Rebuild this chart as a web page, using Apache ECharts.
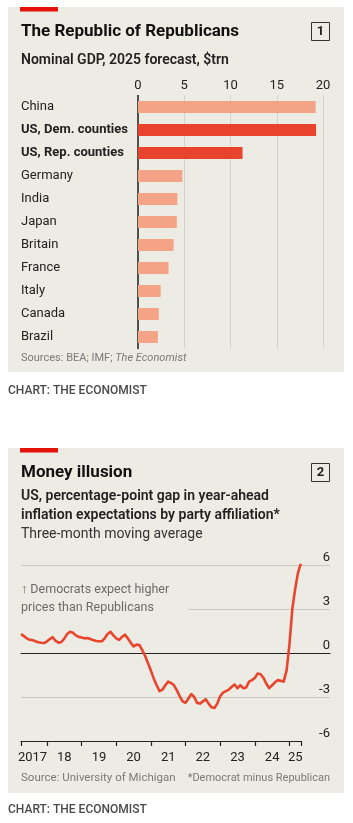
<!DOCTYPE html>
<html>
<head>
<meta charset="utf-8">
<style>
  html, body { margin: 0; padding: 0; background: #fff; }
  #main { width: 353px; height: 823px; }
</style>
<script src="https://cdn.jsdelivr.net/npm/echarts@6/dist/echarts.min.js"></script>
</head>
<body>
<div id="main"></div>
<script>
// chart 1: nominal GDP, 2025 forecast, $trn
var countries = ['China', 'US, Dem. counties', 'US, Rep. counties', 'Germany', 'India', 'Japan',
    'Britain', 'France', 'Italy', 'Canada', 'Brazil'];
var gdp = [19.2, 19.25, 11.3, 4.8, 4.25, 4.2, 3.85, 3.3, 2.45, 2.25, 2.15];
var usRows = ['US, Dem. counties', 'US, Rep. counties'];

// chart 2: Dem minus Rep gap in year-ahead inflation expectations, monthly from Apr 2017
var startYear = 2017, startMonth = 4;
var gap = [
    1.3, 1.15, 1.0, 0.9, 0.88, 0.8, 0.73, 0.7, 0.68, 0.8,
    0.95, 1.08, 0.82, 0.7, 0.75, 0.98, 1.3, 1.45, 1.38, 1.2,
    1.1, 1.05, 1.0, 1.02, 0.95, 0.88, 0.82, 0.8, 0.8, 1.0,
    1.3, 1.45, 1.2, 1.0, 0.9, 1.1, 1.25, 1.0, 0.7, 0.45,
    0.57, 0.55, 0.2, -0.2, -0.7, -1.2, -1.75, -2.2, -2.6, -2.5,
    -2.2, -1.95, -2.05, -2.2, -2.55, -2.95, -3.3, -3.4, -3.1, -2.8,
    -3.0, -3.4, -3.45, -3.3, -3.15, -3.45, -3.7, -3.75, -3.45, -2.95,
    -2.7, -2.6, -2.5, -2.3, -2.15, -2.4, -2.2, -2.4, -2.35, -1.95,
    -1.85, -1.7, -1.4, -1.45, -1.7, -2.1, -2.4, -2.2, -2.0, -1.85,
    -1.9, -1.95, -1.2, 0.6, 3.0, 4.4, 5.5, 6.15
];
var yearLabelMonths = ['2017-08', '2018-07', '2019-07', '2020-07', '2021-07', '2022-07', '2023-07', '2024-07', '2025-03'];
var yearLabels = ['2017', '18', '19', '20', '21', '22', '23', '24', '25'];

var months = [];
for (var i = 0; i < gap.length; i++) {
    var m = startMonth - 1 + i;
    var y = startYear + Math.floor(m / 12);
    var mm = (m % 12) + 1;
    months.push(y + '-' + (mm < 10 ? '0' + mm : mm));
}

var panel = '#ecebe4';
var red = '#e3120b';
var font = 'Roboto, "Liberation Sans", sans-serif';

function txt(x, y, text, style) {
    var s = Object.assign({
        text: text, fontFamily: font, fontSize: 13, fill: '#222',
        textVerticalAlign: 'middle'
    }, style || {});
    return { type: 'text', x: x, y: y, style: s, z: 5 };
}

var myChart = echarts.init(document.getElementById('main'));

var option = {
    animation: false,
    textStyle: { fontFamily: font },
    grid: [
        { left: 138, right: 30, top: 95.5, height: 253 },
        { left: 21, right: 23, top: 565, bottom: 82 },
        { left: 21, right: 52, top: 565, bottom: 82 }
    ],
    xAxis: [
        {
            gridIndex: 0, type: 'value', min: 0, max: 20, interval: 5, position: 'top',
            axisLine: { show: false }, axisTick: { show: false },
            axisLabel: { fontSize: 13, color: '#222', margin: 3 },
            splitLine: { lineStyle: { color: '#d3d2ca', width: 1 } }
        },
        {
            // zero line of chart 2, full width
            gridIndex: 1, type: 'value', min: 0, max: 1,
            axisLine: { show: true, onZero: true, lineStyle: { color: '#222', width: 1.2 } },
            axisTick: { show: false }, axisLabel: { show: false }, splitLine: { show: false }
        },
        {
            gridIndex: 2, type: 'category', data: months, boundaryGap: false,
            axisLine: { onZero: false, lineStyle: { color: '#222', width: 1.2 } },
            axisTick: {
                length: 5, lineStyle: { color: '#222', width: 1.2 },
                interval: function (idx, val) {
                    return idx === 0 || idx === months.length - 1 || val.slice(5) === '01';
                }
            },
            axisLabel: {
                fontSize: 13, color: '#222', margin: 10,
                interval: function (idx, val) { return yearLabelMonths.indexOf(val) >= 0; },
                formatter: function (val) {
                    var k = yearLabelMonths.indexOf(val);
                    return k >= 0 ? yearLabels[k] : '';
                }
            },
            splitLine: { show: false }
        }
    ],
    yAxis: [
        {
            gridIndex: 0, type: 'category', data: countries, inverse: true,
            axisLine: { show: true, lineStyle: { color: '#222', width: 1.5 } },
            axisTick: { show: false },
            axisLabel: {
                align: 'left', margin: 117, fontSize: 13, color: '#222',
                formatter: function (v) {
                    return usRows.indexOf(v) >= 0 ? '{b|' + v + '}' : v;
                },
                rich: { b: { fontWeight: 'bold', fontSize: 13, color: '#222' } }
            }
        },
        {
            gridIndex: 1, type: 'value', min: -6, max: 6, interval: 3, position: 'right',
            axisLine: { show: false }, axisTick: { show: false },
            axisLabel: {
                inside: true, margin: 0, fontSize: 13, color: '#222',
                verticalAlign: 'bottom', padding: [0, 0, 1, 0]
            },
            splitLine: { showMinLine: false, lineStyle: { color: '#cbcac2', width: 1 } }
        },
        { gridIndex: 2, type: 'value', min: -6, max: 6, show: false }
    ],
    series: [
        {
            type: 'bar', xAxisIndex: 0, yAxisIndex: 0, barWidth: 12,
            data: gdp,
            itemStyle: {
                color: function (p) {
                    return usRows.indexOf(countries[p.dataIndex]) >= 0 ? '#e8432d' : '#f5a386';
                }
            }
        },
        {
            type: 'line', xAxisIndex: 2, yAxisIndex: 2, data: gap,
            symbol: 'none', z: 3,
            lineStyle: { color: '#e8452e', width: 2.6, join: 'round' }
        }
    ],
    graphic: [
        // panels
        { type: 'rect', shape: { x: 8, y: 7, width: 336, height: 365 }, style: { fill: panel }, z: -10 },
        { type: 'rect', shape: { x: 8, y: 448, width: 336, height: 345 }, style: { fill: panel }, z: -10 },
        { type: 'rect', shape: { x: 20, y: 7, width: 38, height: 4.5 }, style: { fill: red }, z: 5 },
        { type: 'rect', shape: { x: 20, y: 448, width: 38, height: 4.5 }, style: { fill: red }, z: 5 },
        // chart 1 text
        txt(21, 32, 'The Republic of Republicans', { fontSize: 17, fontWeight: 'bold', fill: '#111' }),
        { type: 'rect', shape: { x: 311.5, y: 22.5, width: 18, height: 18 }, style: { fill: 'none', stroke: '#333', lineWidth: 1 }, z: 5 },
        txt(320.5, 32, '1', { fontSize: 13, fontWeight: 'bold', textAlign: 'center' }),
        txt(21, 60, 'Nominal GDP, 2025 forecast, $trn', { fontSize: 14, fontWeight: 600 }),
        txt(21, 358, '{a|Sources: BEA; IMF; }{i|The Economist}', {
            rich: {
                a: { fontSize: 11, fill: '#7a7a7a', fontFamily: font },
                i: { fontSize: 11, fill: '#7a7a7a', fontStyle: 'italic', fontFamily: font }
            }
        }),
        txt(8, 391, 'CHART: THE ECONOMIST', { fontSize: 12, fontWeight: 500, fill: '#4a4a4a' }),
        // chart 2 text
        txt(21, 473, 'Money illusion', { fontSize: 17, fontWeight: 'bold', fill: '#111' }),
        { type: 'rect', shape: { x: 311.5, y: 463.5, width: 18, height: 18 }, style: { fill: 'none', stroke: '#333', lineWidth: 1 }, z: 5 },
        txt(320.5, 473, '2', { fontSize: 13, fontWeight: 'bold', textAlign: 'center' }),
        txt(21, 496, 'US, percentage-point gap in year-ahead', { fontSize: 14, fontWeight: 600 }),
        txt(21, 515, 'inflation expectations by party affiliation*', { fontSize: 14, fontWeight: 600 }),
        txt(21, 534, 'Three-month moving average', { fontSize: 14, fill: '#333' }),
        { type: 'rect', shape: { x: 20, y: 605, width: 168, height: 8 }, style: { fill: panel }, z: 1 },
        txt(21, 590, '\u2191 Democrats expect higher', { fontSize: 12.5, fill: '#6b6b6b' }),
        txt(21, 608, 'prices than Republicans', { fontSize: 12.5, fill: '#6b6b6b' }),
        txt(21, 778, 'Source: University of Michigan', { fontSize: 11.5, fill: '#7a7a7a' }),
        txt(330, 778, '*Democrat minus Republican', { fontSize: 11, fill: '#7a7a7a', textAlign: 'right' }),
        txt(8, 810, 'CHART: THE ECONOMIST', { fontSize: 12, fontWeight: 500, fill: '#4a4a4a' })
    ]
};

myChart.setOption(option);
</script>
</body>
</html>
